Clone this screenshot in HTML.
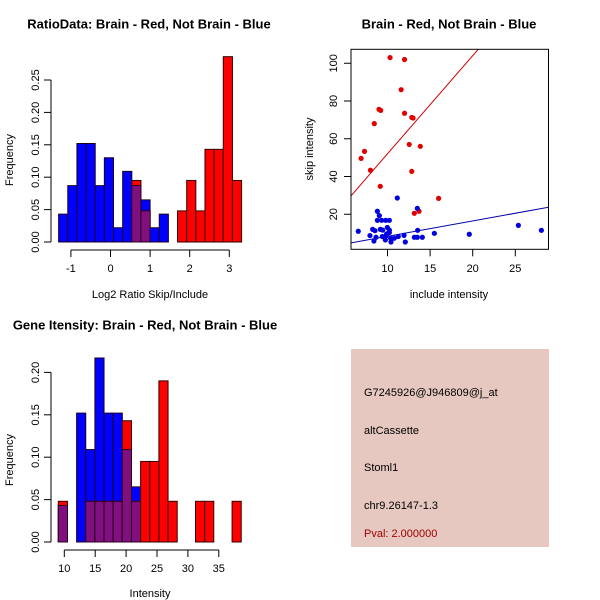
<!DOCTYPE html>
<html><head><meta charset="utf-8"><style>
html,body{margin:0;padding:0;background:#fff;}
svg{display:block;font-family:"Liberation Sans",sans-serif;}
</style></head><body>
<svg id="c" width="600" height="600" viewBox="0 0 600 600">
<rect x="351" y="349" width="198" height="198" fill="#e6c8c0"/>
<text x="364" y="396" font-size="11">G7245926@J946809@j_at</text>
<text x="364" y="434" font-size="11">altCassette</text>
<text x="364" y="471" font-size="11">Stoml1</text>
<text x="364" y="509" font-size="11">chr9.26147-1.3</text>
<text x="364" y="537" font-size="11" fill="#a00000">Pval: 2.000000</text>
</svg>
<script>
// Panel 1: ratio histogram
const ratioStart = -1.31, ratioBinWidth = 0.231;
const ratioBlue = [0.043,0.087,0.152,0.152,0.087,0.130,0.022,0.109,0.087,0.065,0.022,0.043,0,0,0,0,0,0,0,0];
const ratioRed  = [0,0,0,0,0,0,0,0,0.095,0.048,0,0,0,0.048,0.095,0.048,0.143,0.143,0.286,0.095];
const ratioXTicks = [-1,0,1,2,3];
const ratioYTicks = [0,0.05,0.10,0.15,0.20,0.25];
const ratioYLabels = ["0.00","0.05","0.10","0.15","0.20","0.25"];
// Panel 3: intensity histogram
const intStart = 9.03, intBinWidth = 1.48;
const intBlue = [0.043,0,0.152,0.109,0.217,0.152,0.152,0.109,0.065,0,0,0,0,0,0,0,0,0,0,0];
const intRed  = [0.048,0,0,0.048,0.048,0.048,0.048,0.143,0.048,0.095,0.095,0.190,0.048,0,0,0.048,0.048,0,0,0.048];
const intXTicks = [10,15,20,25,30,35];
const intYTicks = [0,0.05,0.10,0.15,0.20];
const intYLabels = ["0.00","0.05","0.10","0.15","0.20"];
// Panel 2: scatter
const redX = [10.3,12.0,11.6,9.0,9.2,12.0,8.45,12.85,13.0,12.55,13.85,7.3,6.9,8.0,12.85,9.15,16.0,13.15,13.7];
const redY = [103,102,86,75.6,75,73.5,68,71.3,71,57,56,53.3,49.6,43.3,42.7,34.8,28.4,20.5,21.6];
const blueX = [6.57,11.15,8.81,9.04,8.81,9.31,9.79,10.22,13.50,9.98,10.22,8.26,8.53,9.16,9.43,13.54,7.94,8.65,9.39,9.82,10.37,10.80,11.27,11.94,8.41,9.75,10.41,12.09,13.15,13.50,14.09,15.50,19.6,25.36,28.06,9.90,10.22];
const blueY = [11.0,28.6,21.6,19.3,16.8,16.8,16.8,16.8,23.1,13.0,11.6,12.0,11.3,12.0,11.6,11.5,8.7,7.8,8.2,8.5,7.3,7.3,8.2,8.8,5.8,6.4,5.3,5.3,7.8,7.8,7.8,9.9,9.4,14.1,11.5,9.6,10.3];
const redFit = [0.03, 5.2];   // intercept, slope
const blueFit = [0.18, 0.814];
const scXTicks = [10,15,20,25];
const scYTicks = [20,40,60,80,100];

const svg = document.getElementById('c');
const NS = 'http://www.w3.org/2000/svg';
function mk(tag, attrs, parent){const e=document.createElementNS(NS,tag);for(const k in attrs)e.setAttribute(k,attrs[k]);(parent||svg).appendChild(e);return e;}
function txt(x,y,s,size,extra){const t=mk('text',Object.assign({x:x,y:y,'font-size':size,'text-anchor':'middle','dominant-baseline':'central'},extra||{}));t.textContent=s;return t;}

function hist(cfg){
  const g=mk('g',{});
  
  
  const sx=v=>cfg.x0+(v-cfg.xv0)*cfg.xs, sy=v=>cfg.yBase-v*cfg.ys;
  for(let i=0;i<cfg.blue.length;i++){
    const l=sx(cfg.start+i*cfg.bw), r=sx(cfg.start+(i+1)*cfg.bw);
    const b=cfg.blue[i], rd=cfg.red[i], m=Math.min(b,rd);
    if(b>0){const e=mk('rect',{x:l,y:sy(b),width:r-l,height:sy(0)-sy(b),fill:'#0000ff',stroke:'#200020','stroke-width':1},g);
      
      }
    if(rd>0){const e=mk('rect',{x:l,y:sy(rd),width:r-l,height:sy(0)-sy(rd),fill:'#ff0000',stroke:'#300000','stroke-width':1},g);
      
      }
    if(m>0){const e=mk('rect',{x:l,y:sy(m),width:r-l,height:sy(0)-sy(m),fill:'#801080',stroke:'#300020','stroke-width':1},g);
      
      }
  }
  const xa=cfg.xAxisY, tx=cfg.xticks.map(sx);
  mk('line',{x1:tx[0],x2:tx[tx.length-1],y1:xa,y2:xa,stroke:'#000'},g);
  cfg.xticks.forEach((v,i)=>{mk('line',{x1:tx[i],x2:tx[i],y1:xa,y2:xa+7,stroke:'#000'},g);
    const t=txt(tx[i],xa+19,String(v),11);
    
    });
  const ax=cfg.yAxisX, ty=cfg.yticks.map(sy);
  mk('line',{x1:ax,x2:ax,y1:ty[0],y2:ty[ty.length-1],stroke:'#000'},g);
  cfg.yticks.forEach((v,i)=>{mk('line',{x1:ax,x2:ax-7,y1:ty[i],y2:ty[i],stroke:'#000'},g);
    const t=txt(ax-15,ty[i],cfg.ylabels[i],11,{transform:`rotate(-90 ${ax-15} ${ty[i]})`});
    
    });
}

hist({name:'ratio-histogram',start:ratioStart,bw:ratioBinWidth,blue:ratioBlue,red:ratioRed,x0:110.5,xv0:0,xs:39.6,yBase:242,ys:648,
  xticks:ratioXTicks,yticks:ratioYTicks,ylabels:ratioYLabels,xAxisY:250,yAxisX:51});
hist({name:'intensity-histogram',start:intStart,bw:intBinWidth,blue:intBlue,red:intRed,x0:64.3,xv0:10,xs:6.18,yBase:542,ys:848,
  xticks:intXTicks,yticks:intYTicks,ylabels:intYLabels,xAxisY:550,yAxisX:51});

(function(){
  const g=mk('g',{});
  
  
  const L=351,R=548.5,T=49.3,B=249.3;
  const sx=v=>387.5+(v-10)*8.52, sy=v=>252-v*1.8875;
  const clip=mk('clipPath',{id:'scclip'},g); mk('rect',{x:L,y:T,width:R-L,height:B-T},clip);
  const lf=(fit,col,name)=>{const x1=5.7,x2=29;
    const e=mk('line',{x1:sx(x1),y1:sy(fit[0]+fit[1]*x1),x2:sx(x2),y2:sy(fit[0]+fit[1]*x2),stroke:col,'stroke-width':1,'clip-path':'url(#scclip)'},g);
    
    };
  lf(redFit,'#cc0000','red-fit-line'); lf(blueFit,'#0000aa','blue-fit-line');
  redX.forEach((x,i)=>{const c=mk('circle',{cx:sx(x),cy:sy(redY[i]),r:2.6,fill:'#e00000'},g);
    
    });
  blueX.forEach((x,i)=>{const c=mk('circle',{cx:sx(x),cy:sy(blueY[i]),r:2.6,fill:'#0000e0'},g);
    
    });
  mk('rect',{x:L,y:T,width:R-L,height:B-T,fill:'none',stroke:'#000'},g);
  scXTicks.forEach(v=>{mk('line',{x1:sx(v),x2:sx(v),y1:B,y2:B+7,stroke:'#000'},g);
    const t=txt(sx(v),269,String(v),11);
    
    });
  scYTicks.forEach(v=>{mk('line',{x1:L,x2:L-7,y1:sy(v),y2:sy(v),stroke:'#000'},g);
    const t=txt(L-17,sy(v),String(v),11,{transform:`rotate(-90 ${L-17} ${sy(v)})`});
    
    });
})();

const titles=[[149,24,'RatioData: Brain - Red, Not Brain - Blue','ratio-chart-title'],
  [449,24,'Brain - Red, Not Brain - Blue','scatter-chart-title'],
  [145,325,'Gene Itensity: Brain - Red, Not Brain - Blue','intensity-chart-title']];
titles.forEach(a=>{const t=txt(a[0],a[1],a[2],13,{'font-weight':'bold'});
  
  });
const labs=[[150,295,'Log2 Ratio Skip/Include',0,'ratio-x-axis-title'],[449,295,'include intensity',0,'scatter-x-axis-title'],
  [150,594,'Intensity',0,'intensity-x-axis-title'],[10,160,'Frequency',1,'ratio-y-axis-title'],
  [310,149,'skip intensity',1,'scatter-y-axis-title'],[10,460,'Frequency',1,'intensity-y-axis-title']];
labs.forEach(a=>{const t=txt(a[0],a[1],a[2],11,a[3]?{transform:`rotate(-90 ${a[0]} ${a[1]})`}:{});
  
  });
</script>
</body></html>
